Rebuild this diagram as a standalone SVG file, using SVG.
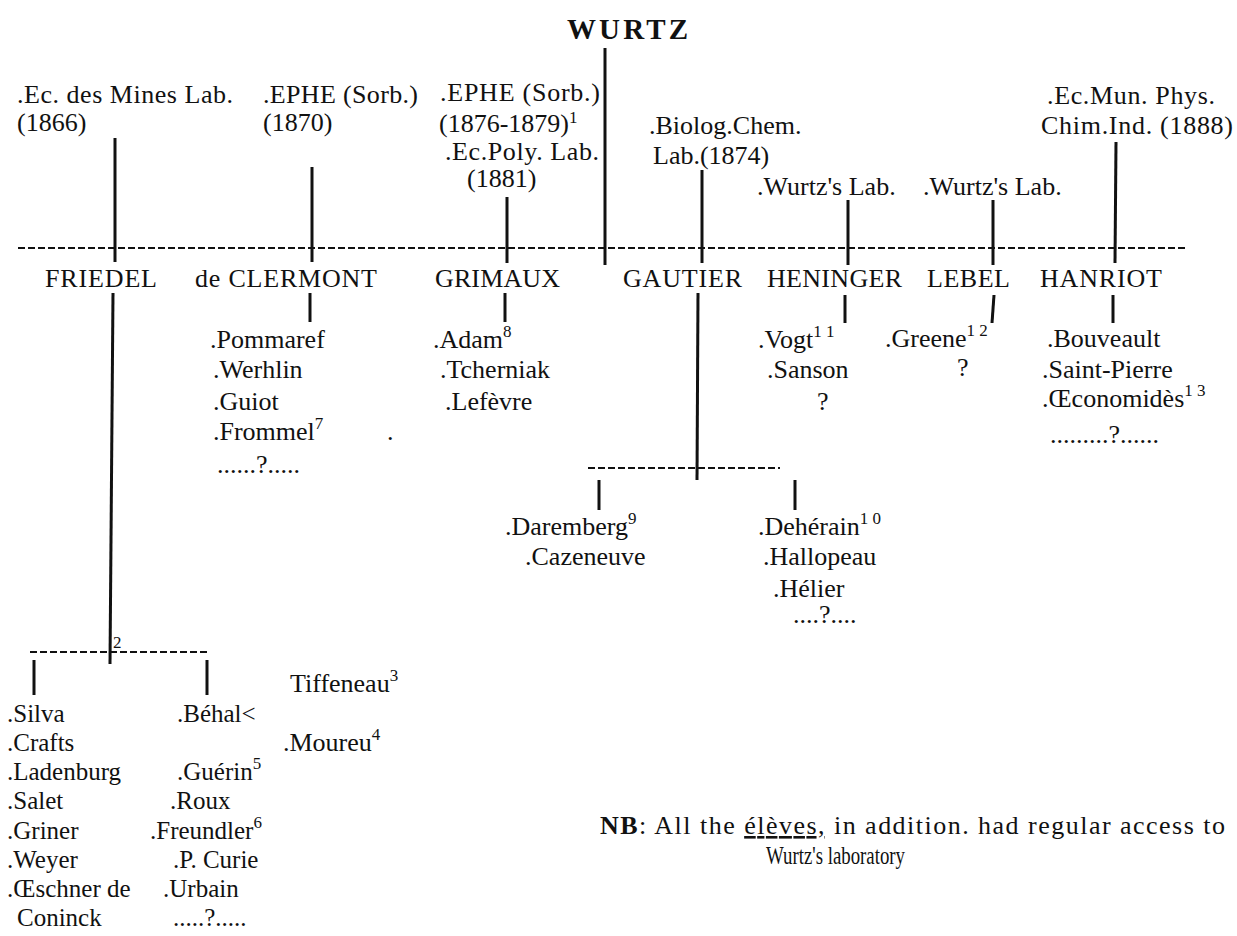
<svg xmlns="http://www.w3.org/2000/svg" width="1237" height="936" viewBox="0 0 1237 936">
<style>
text{font-family:"Liberation Serif","Times New Roman",serif;font-size:26px;fill:#111}
.sup{font-size:17px}
.title{font-weight:bold;font-size:29px}
.sm{font-size:25px}
.v{stroke:#111;stroke-width:3;fill:none}
.d{stroke:#111;stroke-width:2;stroke-dasharray:7 3;fill:none}
</style>
<rect width="1237" height="936" fill="#fff"/>
<g id="connectors">
<line class="d" x1="18" y1="248" x2="1186" y2="248"/>
<line class="v" x1="605" y1="48" x2="605" y2="265"/>
<line class="v" x1="115" y1="138" x2="115" y2="262"/>
<line class="v" x1="113" y1="293" x2="110" y2="664"/>
<line class="v" x1="312" y1="167" x2="312" y2="262"/>
<line class="v" x1="310" y1="293" x2="310" y2="322"/>
<line class="v" x1="507" y1="197" x2="507" y2="263"/>
<line class="v" x1="505" y1="293" x2="505" y2="322"/>
<line class="v" x1="702" y1="170" x2="702" y2="263"/>
<line class="v" x1="698" y1="293" x2="697" y2="480"/>
<line class="v" x1="848" y1="200" x2="848" y2="265"/>
<line class="v" x1="845" y1="295" x2="845" y2="323"/>
<line class="v" x1="993" y1="200" x2="993" y2="265"/>
<line class="v" x1="994" y1="295" x2="992" y2="323"/>
<line class="v" x1="1116" y1="142" x2="1115" y2="263"/>
<line class="v" x1="1113" y1="295" x2="1113" y2="323"/>
<line class="d" x1="588" y1="468" x2="780" y2="468"/>
<line class="v" x1="599" y1="480" x2="599" y2="510"/>
<line class="v" x1="795" y1="480" x2="795" y2="510"/>
<line class="d" x1="30" y1="652" x2="208" y2="652"/>
<line class="v" x1="34" y1="660" x2="34" y2="695"/>
<line class="v" x1="207" y1="660" x2="207" y2="695"/>
</g>
<g id="wurtz"><text class="title" x="567" y="39" textLength="121" lengthAdjust="spacing">WURTZ</text></g>
<g id="lab-mines">
<text x="17" y="103" textLength="216" lengthAdjust="spacing">.Ec. des Mines Lab.</text>
<text x="17" y="131">(1866)</text>
</g>
<g id="lab-ephe1870">
<text x="263" y="103" textLength="155" lengthAdjust="spacing">.EPHE (Sorb.)</text>
<text x="263" y="131">(1870)</text>
</g>
<g id="lab-ephe1876">
<text x="440" y="101" textLength="160" lengthAdjust="spacing">.EPHE (Sorb.)</text>
<text x="439" y="132">(1876-1879)<tspan class="sup" dy="-9">1</tspan></text>
<text x="445" y="160" textLength="154" lengthAdjust="spacing">.Ec.Poly. Lab.</text>
<text x="467" y="187">(1881)</text>
</g>
<g id="lab-biolog">
<text x="649" y="134">.Biolog.Chem.</text>
<text x="653" y="164">Lab.(1874)</text>
</g>
<g id="lab-wurtz1"><text x="757" y="195">.Wurtz's Lab.</text></g>
<g id="lab-wurtz2"><text x="923" y="195">.Wurtz's Lab.</text></g>
<g id="lab-ecmun">
<text x="1047" y="104" textLength="168" lengthAdjust="spacing">.Ec.Mun. Phys.</text>
<text x="1041" y="134" textLength="192" lengthAdjust="spacing">Chim.Ind. (1888)</text>
</g>
<g id="friedel"><text x="45" y="287" textLength="112" lengthAdjust="spacing">FRIEDEL</text></g>
<g id="clermont"><text x="195" y="287" textLength="182" lengthAdjust="spacing">de CLERMONT</text></g>
<g id="grimaux"><text x="435" y="287" textLength="125" lengthAdjust="spacing">GRIMAUX</text></g>
<g id="gautier"><text x="623" y="287" textLength="119" lengthAdjust="spacing">GAUTIER</text></g>
<g id="heninger"><text x="767" y="287" textLength="135" lengthAdjust="spacing">HENINGER</text></g>
<g id="lebel"><text x="927" y="287" textLength="83" lengthAdjust="spacing">LEBEL</text></g>
<g id="hanriot"><text x="1040" y="287" textLength="122" lengthAdjust="spacing">HANRIOT</text></g>
<g id="clermont-eleves">
<text x="210" y="348">.Pommaref</text>
<text x="213" y="378">.Werhlin</text>
<text x="213" y="410">.Guiot</text>
<text x="213" y="440">.Frommel<tspan class="sup" dy="-11">7</tspan></text>
<text x="217" y="473">......?.....</text>
<text x="387" y="440">.</text>
</g>
<g id="grimaux-eleves">
<text x="433" y="348">.Adam<tspan class="sup" dy="-11">8</tspan></text>
<text x="440" y="378">.Tcherniak</text>
<text x="445" y="410">.Lefèvre</text>
</g>
<g id="heninger-eleves">
<text x="758" y="348">.Vogt<tspan class="sup" dy="-11">1 1</tspan></text>
<text x="767" y="378">.Sanson</text>
<text x="817" y="410">?</text>
</g>
<g id="lebel-eleves">
<text x="885" y="347">.Greene<tspan class="sup" dy="-11">1 2</tspan></text>
<text x="957" y="376">?</text>
</g>
<g id="hanriot-eleves">
<text x="1047" y="347">.Bouveault</text>
<text x="1042" y="378">.Saint-Pierre</text>
<text x="1042" y="407">.Œconomidès<tspan class="sup" dy="-11">1 3</tspan></text>
<text x="1050" y="443">.........?......</text>
</g>
<g id="gautier-left">
<text x="505" y="535">.Daremberg<tspan class="sup" dy="-11">9</tspan></text>
<text x="525" y="565">.Cazeneuve</text>
</g>
<g id="gautier-right">
<text x="758" y="535">.Dehérain<tspan class="sup" dy="-11">1 0</tspan></text>
<text x="763" y="565">.Hallopeau</text>
<text x="773" y="597">.Hélier</text>
<text x="793" y="623">....?....</text>
</g>
<g id="friedel-note"><text class="sup" x="113" y="648">2</text></g>
<g id="friedel-left">
<text class="sm" x="7" y="722">.Silva</text>
<text class="sm" x="7" y="751">.Crafts</text>
<text class="sm" x="7" y="780">.Ladenburg</text>
<text class="sm" x="7" y="809">.Salet</text>
<text class="sm" x="7" y="839">.Griner</text>
<text class="sm" x="7" y="868">.Weyer</text>
<text class="sm" x="7" y="897">.Œschner de</text>
<text class="sm" x="17" y="926">Coninck</text>
</g>
<g id="friedel-right">
<text class="sm" x="177" y="722">.Béhal&lt;</text>
<text class="sm" x="177" y="780">.Guérin<tspan class="sup" dy="-11">5</tspan></text>
<text class="sm" x="170" y="809">.Roux</text>
<text class="sm" x="150" y="839">.Freundler<tspan class="sup" dy="-11">6</tspan></text>
<text class="sm" x="173" y="868">.P. Curie</text>
<text class="sm" x="163" y="897">.Urbain</text>
<text class="sm" x="173" y="926">.....?.....</text>
</g>
<g id="behal-branch">
<text x="290" y="692">Tiffeneau<tspan class="sup" dy="-11">3</tspan></text>
<text x="283" y="751">.Moureu<tspan class="sup" dy="-11">4</tspan></text>
</g>
<g id="nb">
<text x="600" y="834" textLength="625" lengthAdjust="spacing"><tspan font-weight="bold">NB</tspan>: All the <tspan text-decoration="underline">élèves,</tspan> in addition. had regular access to</text>
<text x="766" y="864" font-size="24" textLength="139" lengthAdjust="spacingAndGlyphs">Wurtz's laboratory</text>
</g>
</svg>
